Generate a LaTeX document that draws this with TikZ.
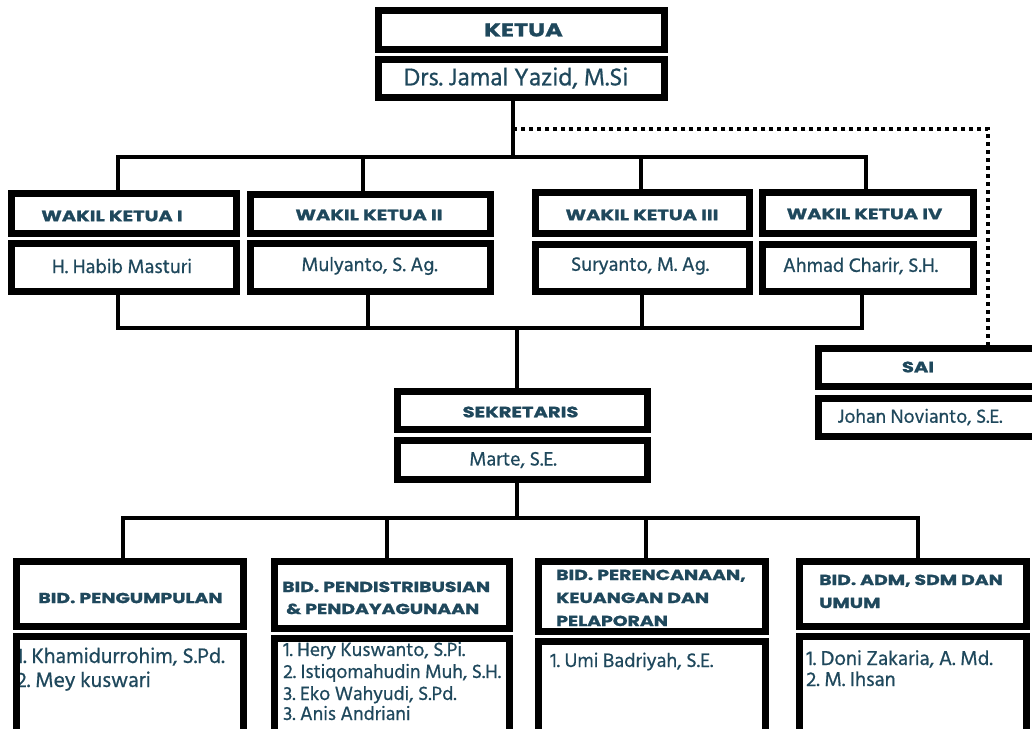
\documentclass[tikz,border=0pt]{standalone}
\usepackage{fontspec}
\newfontfamily\tfont{Poppins}[FakeStretch=1.3, BoldFeatures={FakeBold=1.4}]
\newfontfamily\nfont{Hind Siliguri}[FakeBold=0.7]
\definecolor{tc}{RGB}{31,72,92}
\tikzset{
  box/.style={draw=black, line width=7pt, inner sep=0pt, outer sep=0pt},
  conn/.style={draw=black, line width=4pt},
  dotconn/.style={draw=black, line width=3.5pt, dash pattern=on 3.5pt off 4.5pt},
  ttl/.style={text=tc, inner sep=0pt, font=\tfont\bfseries\fontsize{#1}{#1}\selectfont},
  ttl/.default=15,
  nm/.style={text=tc, inner sep=0pt, font=\nfont\fontsize{#1}{#1}\selectfont},
  nm/.default=20,
  lst/.style={text=tc, inner sep=0pt, anchor=base west, font=\nfont\fontsize{#1}{#1}\selectfont},
  tl/.style={text=tc, inner sep=0pt, anchor=base west, font=\tfont\bfseries\fontsize{14.5}{14.5}\selectfont}
}
\newcommand\mybox[5]{\node[box, minimum width={#4-#2-7}, minimum height={#5-#3-7}] (#1) at ({(#2+#4)/2},{(#3+#5)/2}) {};}
\begin{document}
\frenchspacing
\begin{tikzpicture}[x=1pt,y=-1pt]
\useasboundingbox (0,0) rectangle (1032,728);
\clip (0,0) rectangle (1032,728);
% ---------- texts ----------
\node[ttl=18.5] (tketua) at (523.5,30) {KETUA};
\node[nm=25] (tjamal) at (516,78) {Drs. Jamal Yazid, M.Si};
\node[ttl] (twk1) at (112,216) {WAKIL KETUA I};
\node[nm] (nwk1) at (122,266) {H. Habib Masturi};
\node[ttl] (twk2) at (369,215) {WAKIL KETUA II};
\node[nm] (nwk2) at (369.5,266) {Mulyanto, S. Ag.};
\node[ttl] (twk3) at (642,215) {WAKIL KETUA III};
\node[nm] (nwk3) at (640,266) {Suryanto, M. Ag.};
\node[ttl] (twk4) at (864.5,214) {WAKIL KETUA IV};
\node[nm] (nwk4) at (860.5,266) {Ahmad Charir, S.H.};
\node[ttl] (tsai) at (918,367) {SAI};
\node[nm=19.5] (nsai) at (920,417) {Johan Novianto, S.E.};
\node[ttl] (tsek) at (520.5,412) {SEKRETARIS};
\node[nm] (nsek) at (513,460) {Marte, S.E.};
\node[ttl=14.5] (tb1) at (130.5,598) {BID. PENGUMPULAN};
\node[tl] (tb2a) at (282,592) {BID. PENDISTRIBUSIAN};
\node[tl] (tb2b) at (286,614) {\& PENDAYAGUNAAN};
\node[tl] (tb3a) at (556,580) {BID. PERENCANAAN,};
\node[tl] (tb3b) at (556,603) {KEUANGAN DAN};
\node[tl] (tb3c) at (556,626) {PELAPORAN};
\node[tl] (tb4a) at (819,585) {BID. ADM, SDM DAN};
\node[tl] (tb4b) at (819,608) {UMUM};
\node[lst=21.5] (lb1a) at (16,663) {1. Khamidurrohim, S.Pd.};
\node[lst=21.5] (lb1b) at (16,687) {2. Mey kuswari};
\node[lst=19.6] (lb2a) at (283,656) {1. Hery Kuswanto, S.Pi.};
\node[lst=19.6] (lb2b) at (283,678) {2. Istiqomahudin Muh, S.H.};
\node[lst=19.6] (lb2c) at (283,700) {3. Eko Wahyudi, S.Pd.};
\node[lst=19.6] (lb2d) at (283,720) {3. Anis Andriani};
\node[lst=20] (lb3a) at (550,667) {1. Umi Badriyah, S.E.};
\node[lst=20.5] (lb4a) at (806,665) {1. Doni Zakaria, A. Md.};
\node[lst=20.5] (lb4b) at (806,686) {2. M. Ihsan};
% ---------- boxes ----------
\mybox{ketua}{375}{7}{668}{53}
\mybox{jamal}{375}{56}{668}{101}
\mybox{wk1}{8}{190}{240}{237}
\mybox{wk1n}{8}{240}{240}{295}
\mybox{wk2}{247}{191}{494}{237}
\mybox{wk2n}{247}{240}{494}{295}
\mybox{wk3}{532}{189}{753}{237}
\mybox{wk3n}{532}{241}{753}{295}
\mybox{wk4}{759}{189}{977}{237}
\mybox{wk4n}{759}{241}{977}{295}
\mybox{sai}{815}{345}{1040}{390}
\mybox{sain}{815}{395}{1040}{440}
\mybox{sek}{394}{388}{651}{433}
\mybox{sekn}{394}{437}{651}{483}
\mybox{b1}{13}{558}{247}{630}
\mybox{b1n}{13}{633}{247}{745}
\mybox{b2}{271}{558}{513}{632}
\mybox{b2n}{271}{635}{513}{745}
\mybox{b3}{535}{558}{769}{635}
\mybox{b3n}{535}{638}{769}{745}
\mybox{b4}{796}{558}{1030}{630}
\mybox{b4n}{796}{633}{1030}{745}
% ---------- junction coordinates ----------
\coordinate (jtop) at (513,157);
\coordinate (jdot) at (513,129);
\coordinate (jdotc) at (988,129);
\coordinate (ja1) at (118,157);
\coordinate (ja2) at (363,157);
\coordinate (ja3) at (641,157);
\coordinate (ja4) at (866,157);
\coordinate (jb1) at (118,328);
\coordinate (jb2) at (368,328);
\coordinate (jb3) at (642,328);
\coordinate (jb4) at (862,328);
\coordinate (jbm) at (517,328);
\coordinate (jc) at (517,518);
\coordinate (jc1) at (123,518);
\coordinate (jc2) at (387,518);
\coordinate (jc3) at (646,518);
\coordinate (jc4) at (918,518);
% ---------- connectors ----------
\draw[conn] (jamal.south -| jtop) -- (jtop);
\draw[conn] ([xshift=-2pt]ja1) -- ([xshift=2pt]ja4);
\draw[conn] (ja1) -- (wk1.north -| ja1);
\draw[conn] (ja2) -- (wk2.north -| ja2);
\draw[conn] (ja3) -- (wk3.north -| ja3);
\draw[conn] (ja4) -- (wk4.north -| ja4);
\draw[conn] (wk1n.south -| jb1) -- (jb1);
\draw[conn] (wk2n.south -| jb2) -- (jb2);
\draw[conn] (wk3n.south -| jb3) -- (jb3);
\draw[conn] (wk4n.south -| jb4) -- (jb4);
\draw[conn] ([xshift=-2pt]jb1) -- ([xshift=2pt]jb4);
\draw[conn] (jbm) -- (sek.north -| jbm);
\draw[conn] (sekn.south -| jc) -- (jc);
\draw[conn] ([xshift=-2pt]jc1) -- ([xshift=2pt]jc4);
\draw[conn] (jc1) -- (b1.north -| jc1);
\draw[conn] (jc2) -- (b2.north -| jc2);
\draw[conn] (jc3) -- (b3.north -| jc3);
\draw[conn] (jc4) -- (b4.north -| jc4);
\draw[dotconn] (jdot) -- (jdotc) -- (sai.north -| jdotc);
\end{tikzpicture}
\end{document}
